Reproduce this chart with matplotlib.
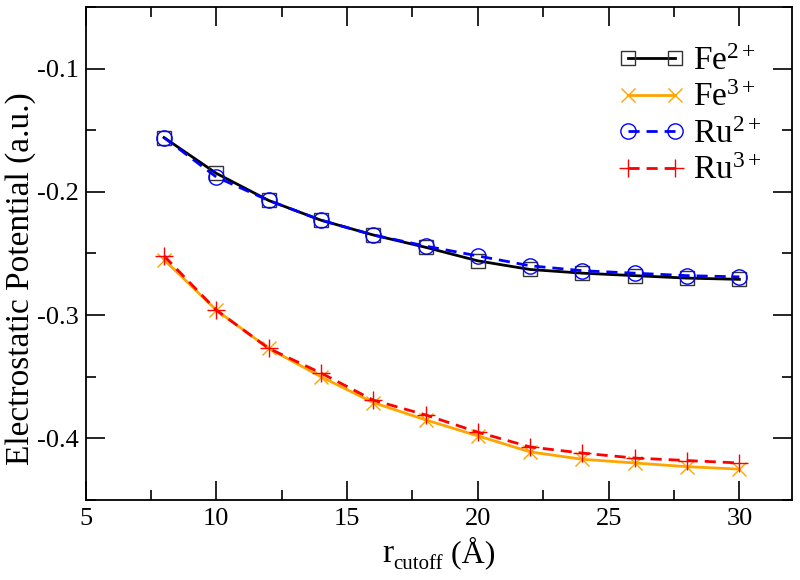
import matplotlib
matplotlib.use("Agg")
import matplotlib.pyplot as plt
from matplotlib.ticker import MultipleLocator

plt.rcParams['font.family'] = ['Liberation Serif', 'DejaVu Serif']
plt.rcParams['mathtext.fontset'] = 'custom'
plt.rcParams['mathtext.rm'] = 'Liberation Serif'
plt.rcParams['mathtext.it'] = 'Liberation Serif:italic'

r_cutoff = [8, 10, 12, 14, 16, 18, 20, 22, 24, 26, 28, 30]
fe2 = [-0.156, -0.185, -0.207, -0.223, -0.235, -0.245, -0.256, -0.263, -0.266, -0.268, -0.270, -0.271]
fe3 = [-0.255, -0.296, -0.327, -0.350, -0.371, -0.385, -0.398, -0.411, -0.417, -0.420, -0.423, -0.425]
ru2 = [-0.156, -0.188, -0.207, -0.223, -0.235, -0.244, -0.252, -0.260, -0.264, -0.266, -0.268, -0.269]
ru3 = [-0.252, -0.296, -0.327, -0.347, -0.369, -0.381, -0.395, -0.407, -0.412, -0.416, -0.418, -0.420]
labels = ['Fe$^{2+}$', 'Fe$^{3+}$', 'Ru$^{2+}$', 'Ru$^{3+}$']
xticks = [5, 10, 15, 20, 25, 30]
yticks = [-0.4, -0.3, -0.2, -0.1]

W, H = 800, 580
fig = plt.figure(figsize=(8, 5.8), dpi=100)
ax = fig.add_axes([0.107, 0.138, 0.8826, 0.850])

ax.plot(r_cutoff, fe2, color='black', lw=2, marker='s', ms=10, mfc='none', mec='#333333', mew=1, label=labels[0])
ax.plot(r_cutoff, fe3, color='#FFA500', lw=2, marker='x', ms=10, mew=1, label=labels[1])
ax.plot(r_cutoff, ru2, color='#0000FF', lw=2, ls=(0, (4, 2.5)), marker='o', ms=11, mfc='none', mec='#0000FF', mew=1, label=labels[2])
ax.plot(r_cutoff, ru3, color='#FF0000', lw=2, ls=(0, (4, 2.5)), marker='+', ms=13, mew=1, label=labels[3])

ax.set_xlim(5, 32)
ax.set_ylim(-0.45, -0.05)
ax.xaxis.set_minor_locator(MultipleLocator(2.5))
ax.yaxis.set_minor_locator(MultipleLocator(0.05))
ax.set_xticks(xticks)
ax.set_xticklabels([str(v) for v in xticks])
ax.set_yticks(yticks)
ax.set_yticklabels(['%.1f' % v for v in yticks])
ax.tick_params(which='both', direction='in', top=True, right=True, labelsize=19, width=1.2)
ax.tick_params(which='major', length=14)
ax.tick_params(which='minor', length=7)
ax.tick_params(axis='x', pad=6)
ax.tick_params(axis='y', pad=5)
for s in ax.spines.values():
    s.set_linewidth(1.3)

ax.set_ylabel('Electrostatic Potential (a.u.)', fontsize=24, va='center')
ax.yaxis.set_label_coords(21 / W, 1 - 279 / H, transform=fig.transFigure)

# x label: "r" with small subscript "cutoff" and " (Å)"
fig.canvas.draw()
r = fig.canvas.get_renderer()
parts = [('r', 24, 0), ('cutoff', 15, -7), (' (Å)', 23, 0)]
objs = []
total = 0
for txt, fs, dy in parts:
    t = fig.text(0, 0, txt, fontsize=fs)
    w = t.get_window_extent(renderer=r).width
    objs.append((t, w, dy))
    total += w
x0 = (85.7 + 791.7) / 2 - total / 2
base = 562
for t, w, dy in objs:
    t.set_position((x0 / W, 1 - (base - dy) / H))
    t.set_va('baseline')
    x0 += w

leg = ax.legend(loc='upper left', bbox_to_anchor=(618 / W, 1 - 46 / H), bbox_transform=fig.transFigure,
                frameon=False, fontsize=24, numpoints=2, handlelength=2.0, handletextpad=0.25,
                labelspacing=0.18, borderaxespad=0, borderpad=0)

fig.savefig('out.png', dpi=100)
